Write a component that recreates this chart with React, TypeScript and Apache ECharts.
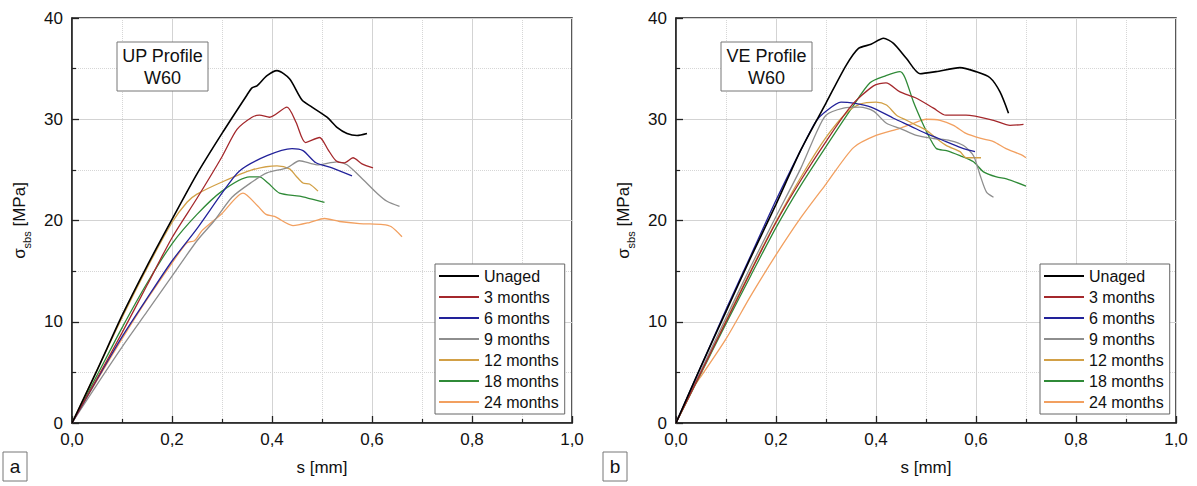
import React, { useEffect, useRef } from "react";
import * as echarts from "echarts";

// ---------- DATA ----------
const seriesNames = ["Unaged", "3 months", "6 months", "9 months", "12 months", "18 months", "24 months"];
const seriesColors = ["#000000", "#a4282c", "#22229a", "#8e8e8e", "#d2a046", "#2f8a37", "#f2a060"];

const xTicks = [0, 0.2, 0.4, 0.6, 0.8, 1.0];
const yTicks = [0, 10, 20, 30, 40];

// Panel a: UP Profile W60  [s (mm), sigma (MPa)]
const upUnaged = [[0,0],[0.05,5.2],[0.1,10.6],[0.15,15.5],[0.2,20.1],[0.25,24.6],[0.3,28.6],[0.35,32.4],[0.36,33.1],[0.37,33.3],[0.39,34.3],[0.41,34.8],[0.435,34.0],[0.46,31.9],[0.48,31.2],[0.51,30.2],[0.53,29.2],[0.55,28.6],[0.57,28.4],[0.59,28.6]];
const up3 = [[0,0],[0.05,4.4],[0.1,8.9],[0.15,13.6],[0.2,18.3],[0.25,22.2],[0.3,26.3],[0.33,29.0],[0.36,30.2],[0.375,30.4],[0.395,30.2],[0.43,31.2],[0.448,29.7],[0.467,27.7],[0.495,28.2],[0.512,27.0],[0.528,25.9],[0.545,25.7],[0.562,26.2],[0.58,25.6],[0.602,25.2]];
const up6 = [[0,0],[0.05,4.3],[0.1,8.5],[0.15,12.3],[0.2,16.0],[0.25,19.2],[0.3,22.7],[0.335,24.9],[0.39,26.4],[0.44,27.1],[0.462,26.9],[0.488,25.7],[0.52,25.2],[0.56,24.4]];
const up9 = [[0,0],[0.05,3.8],[0.1,7.5],[0.15,11.0],[0.2,14.5],[0.25,18.0],[0.285,20.0],[0.32,22.3],[0.36,23.8],[0.39,24.7],[0.43,25.2],[0.455,25.9],[0.49,25.5],[0.53,25.8],[0.55,25.5],[0.575,24.4],[0.61,22.7],[0.63,21.9],[0.655,21.4]];
const up12 = [[0,0],[0.05,5.2],[0.1,10.4],[0.15,15.3],[0.2,19.8],[0.23,21.8],[0.25,22.6],[0.3,23.8],[0.36,25.0],[0.41,25.4],[0.435,25.1],[0.448,24.4],[0.462,23.7],[0.475,23.6],[0.492,22.9]];
const up18 = [[0,0],[0.05,4.7],[0.1,9.4],[0.15,13.8],[0.2,17.7],[0.25,20.6],[0.3,22.9],[0.355,24.3],[0.375,24.3],[0.392,23.7],[0.415,22.7],[0.455,22.4],[0.48,22.1],[0.505,21.8]];
const up24 = [[0,0],[0.05,4.2],[0.1,8.3],[0.15,12.2],[0.2,15.8],[0.23,17.8],[0.245,18.0],[0.26,19.0],[0.3,20.7],[0.342,22.7],[0.372,21.4],[0.388,20.6],[0.405,20.4],[0.442,19.5],[0.475,19.8],[0.505,20.2],[0.535,19.9],[0.575,19.7],[0.622,19.6],[0.638,19.4],[0.66,18.4]];

// Panel b: VE Profile W60
const veUnaged = [[0,0],[0.05,5.6],[0.1,11.0],[0.15,16.4],[0.2,21.6],[0.25,27.0],[0.3,31.6],[0.34,35.3],[0.365,37.0],[0.39,37.4],[0.415,38.0],[0.435,37.5],[0.461,36.0],[0.488,34.5],[0.52,34.7],[0.568,35.1],[0.6,34.7],[0.628,34.1],[0.648,32.7],[0.665,30.6]];
const ve3 = [[0,0],[0.05,5.0],[0.1,10.0],[0.15,15.0],[0.2,19.8],[0.25,24.0],[0.3,27.8],[0.35,31.3],[0.395,33.3],[0.42,33.6],[0.448,32.7],[0.48,32.1],[0.515,31.1],[0.54,30.4],[0.58,30.4],[0.635,29.9],[0.668,29.4],[0.695,29.5]];
const ve6 = [[0,0],[0.05,5.6],[0.1,11.2],[0.15,16.6],[0.2,22.0],[0.25,27.0],[0.28,29.8],[0.3,30.8],[0.33,31.7],[0.355,31.6],[0.39,31.2],[0.435,30.1],[0.47,29.3],[0.5,28.6],[0.54,27.8],[0.575,27.1],[0.598,26.8]];
const ve9 = [[0,0],[0.05,5.2],[0.1,10.4],[0.15,15.5],[0.2,20.4],[0.25,25.2],[0.28,28.6],[0.3,30.4],[0.335,31.1],[0.368,31.2],[0.395,30.8],[0.421,29.6],[0.448,29.1],[0.481,28.4],[0.515,28.1],[0.548,27.9],[0.575,27.4],[0.595,26.4],[0.608,24.5],[0.621,22.8],[0.635,22.3]];
const ve12 = [[0,0],[0.05,5.0],[0.1,10.1],[0.15,15.1],[0.2,19.9],[0.25,24.3],[0.3,28.2],[0.34,30.6],[0.368,31.5],[0.4,31.7],[0.421,31.4],[0.441,30.4],[0.461,29.9],[0.481,29.4],[0.501,28.9],[0.521,28.1],[0.541,27.4],[0.568,26.8],[0.58,26.2],[0.61,26.2]];
const ve18 = [[0,0],[0.05,4.9],[0.1,9.8],[0.15,14.6],[0.2,19.3],[0.25,23.5],[0.3,27.3],[0.35,31.0],[0.388,33.6],[0.42,34.3],[0.448,34.7],[0.458,34.1],[0.475,31.7],[0.495,29.4],[0.508,28.1],[0.521,27.1],[0.541,26.9],[0.568,26.4],[0.595,25.8],[0.615,24.8],[0.641,24.3],[0.661,24.1],[0.7,23.4]];
const ve24 = [[0,0],[0.03,3.2],[0.05,4.6],[0.1,8.3],[0.15,12.6],[0.2,16.6],[0.25,20.3],[0.3,23.6],[0.355,27.2],[0.4,28.4],[0.448,29.1],[0.475,29.6],[0.5,30.0],[0.528,29.9],[0.555,29.4],[0.58,28.6],[0.61,28.1],[0.635,27.8],[0.66,27.1],[0.69,26.5],[0.7,26.2]];

const upData = [upUnaged, up3, up6, up9, up12, up18, up24];
const veData = [veUnaged, ve3, ve6, ve9, ve12, ve18, ve24];

const panelTitles = ["UP Profile\nW60", "VE Profile\nW60"];
const panelLetters = ["a", "b"];

const FONT = "'Liberation Sans', Arial, sans-serif";

export default function App() {
  const ref = useRef<HTMLDivElement>(null);
  useEffect(() => {
    if (!ref.current) return;
    const chart = echarts.init(ref.current, undefined, { renderer: "svg" });
    const gridLefts = [72, 676];
    const fmt = (v: number) => v.toFixed(1).replace(".", ",");

    const xAxis = gridLefts.map((_, i) => ({
      type: "value",
      gridIndex: i,
      min: xTicks[0],
      max: xTicks[xTicks.length - 1],
      interval: xTicks[1] - xTicks[0],
      name: "s [mm]",
      nameLocation: "middle",
      nameGap: 36,
      nameTextStyle: { fontSize: 17, color: "#111", fontFamily: FONT },
      axisLine: { show: true, lineStyle: { color: "#222", width: 1.5 } },
      axisTick: { show: true, inside: true, length: 7, lineStyle: { color: "#222", width: 1.3 } },
      minorTick: { show: true, splitNumber: 2, length: 4, lineStyle: { color: "#222", width: 1.2 } },
      axisLabel: { formatter: fmt, fontSize: 17, color: "#111", fontFamily: FONT, margin: 8 },
      splitLine: { show: true, lineStyle: { color: "#d3d3d3", width: 1 } },
      minorSplitLine: { show: true, lineStyle: { color: "#d6d6d6", width: 1, type: "dotted" } },
    }));
    const yAxis = gridLefts.map((_, i) => ({
      type: "value",
      gridIndex: i,
      min: yTicks[0],
      max: yTicks[yTicks.length - 1],
      interval: yTicks[1] - yTicks[0],
      name: "{a|σ}{b|sbs}{a| [MPa]}",
      nameLocation: "middle",
      nameGap: 40,
      nameRotate: 90,
      nameTextStyle: {
        color: "#111",
        fontFamily: FONT,
        rich: {
          a: { fontSize: 17, lineHeight: 26, verticalAlign: "middle", fontFamily: FONT, color: "#111" },
          b: { fontSize: 11, lineHeight: 26, verticalAlign: "bottom", fontFamily: FONT, color: "#111" },
        },
      },
      axisLine: { show: true, lineStyle: { color: "#222", width: 1.5 } },
      axisTick: { show: true, inside: true, length: 7, lineStyle: { color: "#222", width: 1.3 } },
      minorTick: { show: true, splitNumber: 2, length: 4, lineStyle: { color: "#222", width: 1.2 } },
      axisLabel: { fontSize: 17, color: "#111", fontFamily: FONT, margin: 9 },
      splitLine: { show: true, lineStyle: { color: "#d3d3d3", width: 1 } },
      minorSplitLine: { show: true, lineStyle: { color: "#d6d6d6", width: 1, type: "dotted" } },
    }));

    const series: any[] = [];
    [upData, veData].forEach((panel, pi) => {
      panel.forEach((d, si) => {
        series.push({
          type: "line",
          name: seriesNames[si],
          xAxisIndex: pi,
          yAxisIndex: pi,
          data: d,
          showSymbol: false,
          symbol: "none",
          smooth: 0.25,
          lineStyle: { color: seriesColors[si], width: si === 0 ? 1.6 : 1.3 },
          itemStyle: { color: seriesColors[si] },
          z: 10 - si,
        });
      });
    });

    const legendBase = {
      orient: "vertical",
      top: 264,
      data: seriesNames.map((n) => ({ name: n, icon: "rect" })),
      backgroundColor: "#fff",
      borderColor: "#666",
      borderWidth: 1,
      borderRadius: 0,
      padding: [4, 6, 4, 4],
      itemGap: 5,
      itemWidth: 40,
      itemHeight: 2,
      textStyle: { fontSize: 16, color: "#111", fontFamily: FONT, lineHeight: 16 },
      selectedMode: false,
    };

    const graphic: any[] = [];
    gridLefts.forEach((gl, i) => {
      graphic.push({
        type: "rect",
        x: gl + 45,
        y: 42,
        shape: { x: 0, y: 0, width: 91, height: 49 },
        style: { fill: "#fff", stroke: "#777", lineWidth: 1 },
        z: 50,
      });
      graphic.push({
        type: "text",
        x: gl + 45 + 45.5,
        y: 45,
        z: 51,
        style: {
          text: panelTitles[i],
          align: "center",
          verticalAlign: "top",
          fontSize: 18,
          lineHeight: 22,
          fontFamily: FONT,
          fill: "#111",
        },
      });
      graphic.push({
        type: "rect",
        x: i === 0 ? 3 : 603,
        y: 452,
        shape: { x: 0, y: 0, width: 24, height: 29 },
        style: { fill: "#fff", stroke: "#777", lineWidth: 1 },
        z: 50,
      });
      graphic.push({
        type: "text",
        x: (i === 0 ? 3 : 603) + 12,
        y: 466.5,
        z: 51,
        style: { text: panelLetters[i], align: "center", verticalAlign: "middle", fontSize: 19, fontFamily: FONT, fill: "#111" },
      });
    });

    chart.setOption({
      animation: false,
      backgroundColor: "#fff",
      grid: gridLefts.map((gl) => ({
        left: gl,
        top: 18,
        width: 500,
        height: 405,
        show: true,
        borderColor: "#222",
        borderWidth: 1.5,
        containLabel: false,
      })),
      xAxis,
      yAxis,
      legend: [
        { ...legendBase, left: 435 },
        { ...legendBase, left: 1040 },
      ],
      series,
      graphic,
    });
    return () => chart.dispose();
  }, []);
  return (
    <div
      ref={ref}
      style={{ position: "fixed", left: 0, top: 0, width: 1197, height: 486, background: "#fff" }}
    />
  );
}
